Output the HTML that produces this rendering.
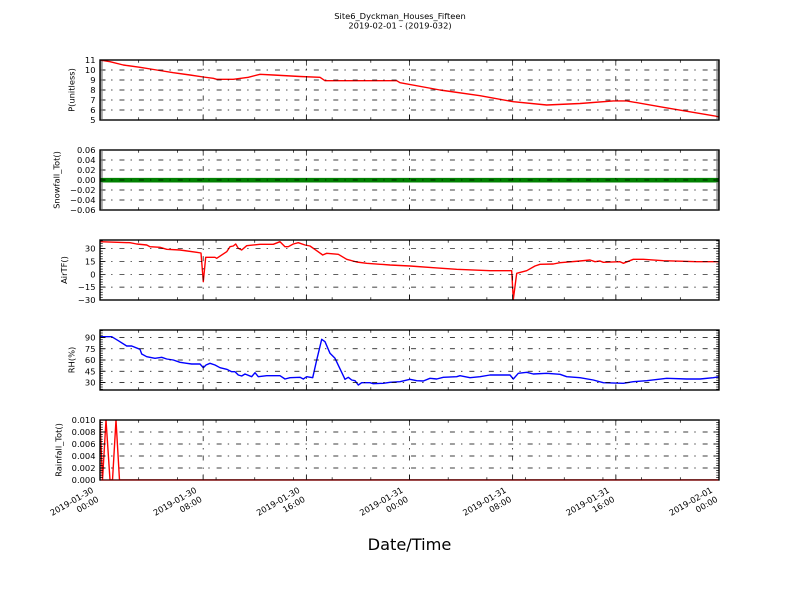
<!DOCTYPE html>
<html><head><meta charset="utf-8"><style>
html,body{margin:0;padding:0;background:#fff;}
svg{display:block;}
text{font-family:"DejaVu Sans","Liberation Sans",sans-serif;fill:#000;}
</style></head><body>
<svg width="800" height="600" viewBox="0 0 800 600" xmlns="http://www.w3.org/2000/svg">
<defs>
<clipPath id="c1"><rect x="100" y="60" width="619" height="60"/></clipPath>
<clipPath id="c2"><rect x="100" y="150" width="619" height="60"/></clipPath>
<clipPath id="c3"><rect x="100" y="240" width="619" height="60"/></clipPath>
<clipPath id="c4"><rect x="100" y="330" width="619" height="60"/></clipPath>
<clipPath id="c5"><rect x="100" y="420" width="619" height="60"/></clipPath>
<g id="xt" stroke="#000" stroke-width="0.7" fill="none">
<path d="M138.69 60v-2.8M177.38 60v-2.8M216.06 60v-2.8M254.75 60v-2.8M293.44 60v-2.8M332.13 60v-2.8M370.82 60v-2.8M448.19 60v-2.8M486.88 60v-2.8M525.57 60v-2.8M564.26 60v-2.8M602.94 60v-2.8M641.63 60v-2.8M680.32 60v-2.8M138.69 0v2.8M177.38 0v2.8M216.06 0v2.8M254.75 0v2.8M293.44 0v2.8M332.13 0v2.8M370.82 0v2.8M448.19 0v2.8M486.88 0v2.8M525.57 0v2.8M564.26 0v2.8M602.94 0v2.8M641.63 0v2.8M680.32 0v2.8"/>
<path d="M203.17 60v-5.6M306.33 60v-5.6M409.5 60v-5.6M512.67 60v-5.6M615.83 60v-5.6M203.17 0v5.6M306.33 0v5.6M409.5 0v5.6M512.67 0v5.6M615.83 0v5.6"/>
<path d="M203.17 60V0M306.33 60V0M409.5 60V0M512.67 60V0M615.83 60V0" stroke-dasharray="5 6.1 1.4 6.94"/>
</g>
</defs>

<!-- Title -->
<text x="400" y="19" font-size="8.33" text-anchor="middle">Site6_Dyckman_Houses_Fifteen</text>
<text x="400" y="28.5" font-size="8.33" text-anchor="middle">2019-02-01 - (2019-032)</text>

<!-- ============ Panel 1 ============ -->
<g clip-path="url(#c1)">
<polyline fill="none" stroke="#ff0000" stroke-width="1.39" stroke-linejoin="round" points="100,60 110,61.7 123.3,65 140,67.3 156.7,70 173.3,72.7 190,75 203.3,77 213.3,78.3 216.7,79.3 233.3,79.3 248.3,77.3 260,74.3 273.3,75 300,76.5 320,77.3 325,80.7 396.7,80.7 400,82.7 440,90 480,95.7 513.3,101.7 546.7,105 580,103.5 613.3,100.9 626.7,100.9 663.3,107.3 719,116.7"/>
</g>
<g stroke="#000" stroke-width="0.7" fill="none">
<path d="M100 70H719M100 80H719M100 90H719M100 100H719M100 110H719" stroke-dasharray="5 6.1 1.4 6.94"/>
<path d="M101.4 120V60M717.6 120V60" stroke-width="2.8" stroke-dasharray="0.7 1.3" stroke-dashoffset="0.35"/>
<path d="M100 70h5.6M100 80h5.6M100 90h5.6M100 100h5.6M100 110h5.6M719 70h-5.6M719 80h-5.6M719 90h-5.6M719 100h-5.6M719 110h-5.6"/>
</g>
<use href="#xt" transform="translate(0,60)"/>
<rect x="100" y="60" width="619" height="60" fill="none" stroke="#000" stroke-width="1.39"/>
<g font-size="8.33" text-anchor="end">
<text x="95.5" y="63">11</text><text x="95.5" y="73">10</text><text x="95.5" y="83">9</text><text x="95.5" y="93">8</text><text x="95.5" y="103">7</text><text x="95.5" y="113">6</text><text x="95.5" y="123">5</text>
</g>
<text font-size="8.33" text-anchor="middle" transform="translate(74.5,90) rotate(-90)">P(unitless)</text>

<!-- ============ Panel 2 ============ -->
<g clip-path="url(#c2)">
<path d="M100 180.2H719" stroke="#008000" stroke-width="4.6"/>
</g>
<g stroke="#000" stroke-width="0.7" fill="none">
<path d="M100 160H719M100 170H719M100 180H719M100 190H719M100 200H719" stroke-dasharray="5 6.1 1.4 6.94"/>
<path d="M101.4 210V150M717.6 210V150" stroke-width="2.8" stroke-dasharray="0.7 1.3" stroke-dashoffset="0.35"/>
<path d="M100 160h5.6M100 170h5.6M100 180h5.6M100 190h5.6M100 200h5.6M719 160h-5.6M719 170h-5.6M719 180h-5.6M719 190h-5.6M719 200h-5.6"/>
</g>
<use href="#xt" transform="translate(0,150)"/>
<rect x="100" y="150" width="619" height="60" fill="none" stroke="#000" stroke-width="1.39"/>
<g font-size="8.33" text-anchor="end">
<text x="95.5" y="153">0.06</text><text x="95.5" y="163">0.04</text><text x="95.5" y="173">0.02</text><text x="95.5" y="183">0.00</text><text x="95.5" y="193">−0.02</text><text x="95.5" y="203">−0.04</text><text x="95.5" y="213">−0.06</text>
</g>
<text font-size="8.33" text-anchor="middle" transform="translate(59.5,180) rotate(-90)">Snowfall_Tot()</text>

<!-- ============ Panel 3 ============ -->
<g clip-path="url(#c3)">
<polyline fill="none" stroke="#ff0000" stroke-width="1.39" stroke-linejoin="round" points="100,241.7 130,242.7 136.7,244 146.7,245 150,246.7 160,247.3 166.7,249.3 180,250 196.7,252.3 201,253 203.3,281.7 205.7,257.3 215,257.3 216.7,258.3 226.7,251.7 230,246.7 233.3,246 235.7,244 238.3,248.3 241.7,250 246.7,245.7 260,244.3 273.3,244.3 280,241.7 285,246.7 288.3,246.7 293.3,244 298.3,242.7 305,245 310,246 316.7,250.7 322.7,255 326.7,253.3 338.3,254.3 346.7,259.3 356.7,262 366.7,263.3 390,265 410,266 433.3,267.7 456.7,269.3 490,270.7 511.7,270.7 513.3,299.5 516.7,273.3 526.7,270.7 535,266 540,264.3 553.3,264 560,262.7 580,261 590,260 595,261.7 600,261 603.3,262.3 620,261.7 623.3,263.3 633.3,259.3 643.3,259.3 663.3,260.7 696.7,261.7 720,261.7"/>
</g>
<g stroke="#000" stroke-width="0.7" fill="none">
<path d="M100 248.57H719M100 261.43H719M100 274.29H719M100 287.14H719" stroke-dasharray="5 6.1 1.4 6.94"/>
<path d="M101.4 300V240M717.6 300V240" stroke-width="2.8" stroke-dasharray="0.7 1.871" stroke-dashoffset="0.35"/>
<path d="M100 248.57h5.6M100 261.43h5.6M100 274.29h5.6M100 287.14h5.6M719 248.57h-5.6M719 261.43h-5.6M719 274.29h-5.6M719 287.14h-5.6"/>
</g>
<use href="#xt" transform="translate(0,240)"/>
<rect x="100" y="240" width="619" height="60" fill="none" stroke="#000" stroke-width="1.39"/>
<g font-size="8.33" text-anchor="end">
<text x="95.5" y="251.6">30</text><text x="95.5" y="264.4">15</text><text x="95.5" y="277.3">0</text><text x="95.5" y="290.1">−15</text><text x="95.5" y="303">−30</text>
</g>
<text font-size="8.33" text-anchor="middle" transform="translate(67,270) rotate(-90)">AirTF()</text>

<!-- ============ Panel 4 ============ -->
<g clip-path="url(#c4)">
<polyline fill="none" stroke="#0000ff" stroke-width="1.39" stroke-linejoin="round" points="100,336.7 111.7,336.7 118.3,340.7 126.7,346 131.7,346 140,349.3 141.7,354 146.7,356.7 155,358.3 161.7,357.3 166.7,359 173.3,360 180,362.3 186.7,363.3 191.7,364 200,364 203.3,367.7 206,365 210,363.3 215,365 220,367.7 226.7,369.3 231.7,371.7 235,371.7 238.3,375 241.7,376 245,374 251.7,376.7 255,372.7 258.3,376.7 266.7,375.7 280,375.7 285,379 290,377.7 300,377.3 303.3,379 306.7,376.7 312.7,377.7 316.7,360 321.7,339.3 325,341.7 330,353.3 335,358.3 345,379.3 348.3,377.3 351.7,380 355,380.7 358.3,385 361.7,382.7 370,382.7 373.3,383.7 383.3,383.3 390,382.3 400,381.7 410,379.3 416.7,380.7 423.3,381 430,378.3 436.7,379 443.3,377.3 456.7,376.7 460,375.7 470,377.7 480,376.7 490,375 510,375 513.3,379 518.3,373.3 526.7,372.3 533.3,374 546.7,373.3 560,374.3 566.7,376.7 580,377.7 593.3,380 603.3,382.7 623.3,383.3 633.3,381.7 646.7,380.7 666.7,378.3 686.7,379 700,379 713.3,377.7 720,376.7"/>
</g>
<g stroke="#000" stroke-width="0.7" fill="none">
<path d="M100 337.5H719M100 348.75H719M100 360H719M100 371.25H719M100 382.5H719" stroke-dasharray="5 6.1 1.4 6.94"/>
<path d="M101.4 390V330M717.6 390V330" stroke-width="2.8" stroke-dasharray="0.7 1.55" stroke-dashoffset="1.85"/>
<path d="M100 337.5h5.6M100 348.75h5.6M100 360h5.6M100 371.25h5.6M100 382.5h5.6M719 337.5h-5.6M719 348.75h-5.6M719 360h-5.6M719 371.25h-5.6M719 382.5h-5.6"/>
</g>
<use href="#xt" transform="translate(0,330)"/>
<rect x="100" y="330" width="619" height="60" fill="none" stroke="#000" stroke-width="1.39"/>
<g font-size="8.33" text-anchor="end">
<text x="95.5" y="340.5">90</text><text x="95.5" y="351.8">75</text><text x="95.5" y="363">60</text><text x="95.5" y="374.3">45</text><text x="95.5" y="385.5">30</text>
</g>
<text font-size="8.33" text-anchor="middle" transform="translate(74.3,360) rotate(-90)">RH(%)</text>

<!-- ============ Panel 5 ============ -->
<g clip-path="url(#c5)">
<polyline fill="none" stroke="#ff0000" stroke-width="1.39" stroke-linejoin="round" points="100,420 102.5,480 106,420 110,480 112.5,480 116,420 119.5,480 719,480"/>
</g>
<g stroke="#000" stroke-width="0.7" fill="none">
<path d="M100 432H719M100 444H719M100 456H719M100 468H719" stroke-dasharray="5 6.1 1.4 6.94"/>
<path d="M101.4 480V420M717.6 480V420" stroke-width="2.8" stroke-dasharray="0.7 1.7" stroke-dashoffset="0.35"/>
<path d="M100 432h5.6M100 444h5.6M100 456h5.6M100 468h5.6M719 432h-5.6M719 444h-5.6M719 456h-5.6M719 468h-5.6"/>
</g>
<use href="#xt" transform="translate(0,420)"/>
<rect x="100" y="420" width="619" height="60" fill="none" stroke="#000" stroke-width="1.39"/>
<path d="M100.7 480.2H718.3" stroke="#a01818" stroke-width="0.8"/>
<g font-size="8.33" text-anchor="end">
<text x="95.5" y="423">0.010</text><text x="95.5" y="435">0.008</text><text x="95.5" y="447">0.006</text><text x="95.5" y="459">0.004</text><text x="95.5" y="471">0.002</text><text x="95.5" y="483">0.000</text>
</g>
<text font-size="8.33" text-anchor="middle" transform="translate(61.3,450) rotate(-90)">Rainfall_Tot()</text>

<!-- X tick labels -->
<g font-size="8.33" text-anchor="end">
<g transform="translate(90.5,485.5) rotate(-30)"><text x="0" y="7.3">2019-01-30</text><text x="0" y="17.8">00:00</text></g>
<g transform="translate(193.67,485.5) rotate(-30)"><text x="0" y="7.3">2019-01-30</text><text x="0" y="17.8">08:00</text></g>
<g transform="translate(296.83,485.5) rotate(-30)"><text x="0" y="7.3">2019-01-30</text><text x="0" y="17.8">16:00</text></g>
<g transform="translate(400,485.5) rotate(-30)"><text x="0" y="7.3">2019-01-31</text><text x="0" y="17.8">00:00</text></g>
<g transform="translate(503.17,485.5) rotate(-30)"><text x="0" y="7.3">2019-01-31</text><text x="0" y="17.8">08:00</text></g>
<g transform="translate(606.33,485.5) rotate(-30)"><text x="0" y="7.3">2019-01-31</text><text x="0" y="17.8">16:00</text></g>
<g transform="translate(709.5,485.5) rotate(-30)"><text x="0" y="7.3">2019-02-01</text><text x="0" y="17.8">00:00</text></g>
</g>

<text x="409.5" y="550" font-size="16.2" text-anchor="middle">Date/Time</text>
</svg>
</body></html>
